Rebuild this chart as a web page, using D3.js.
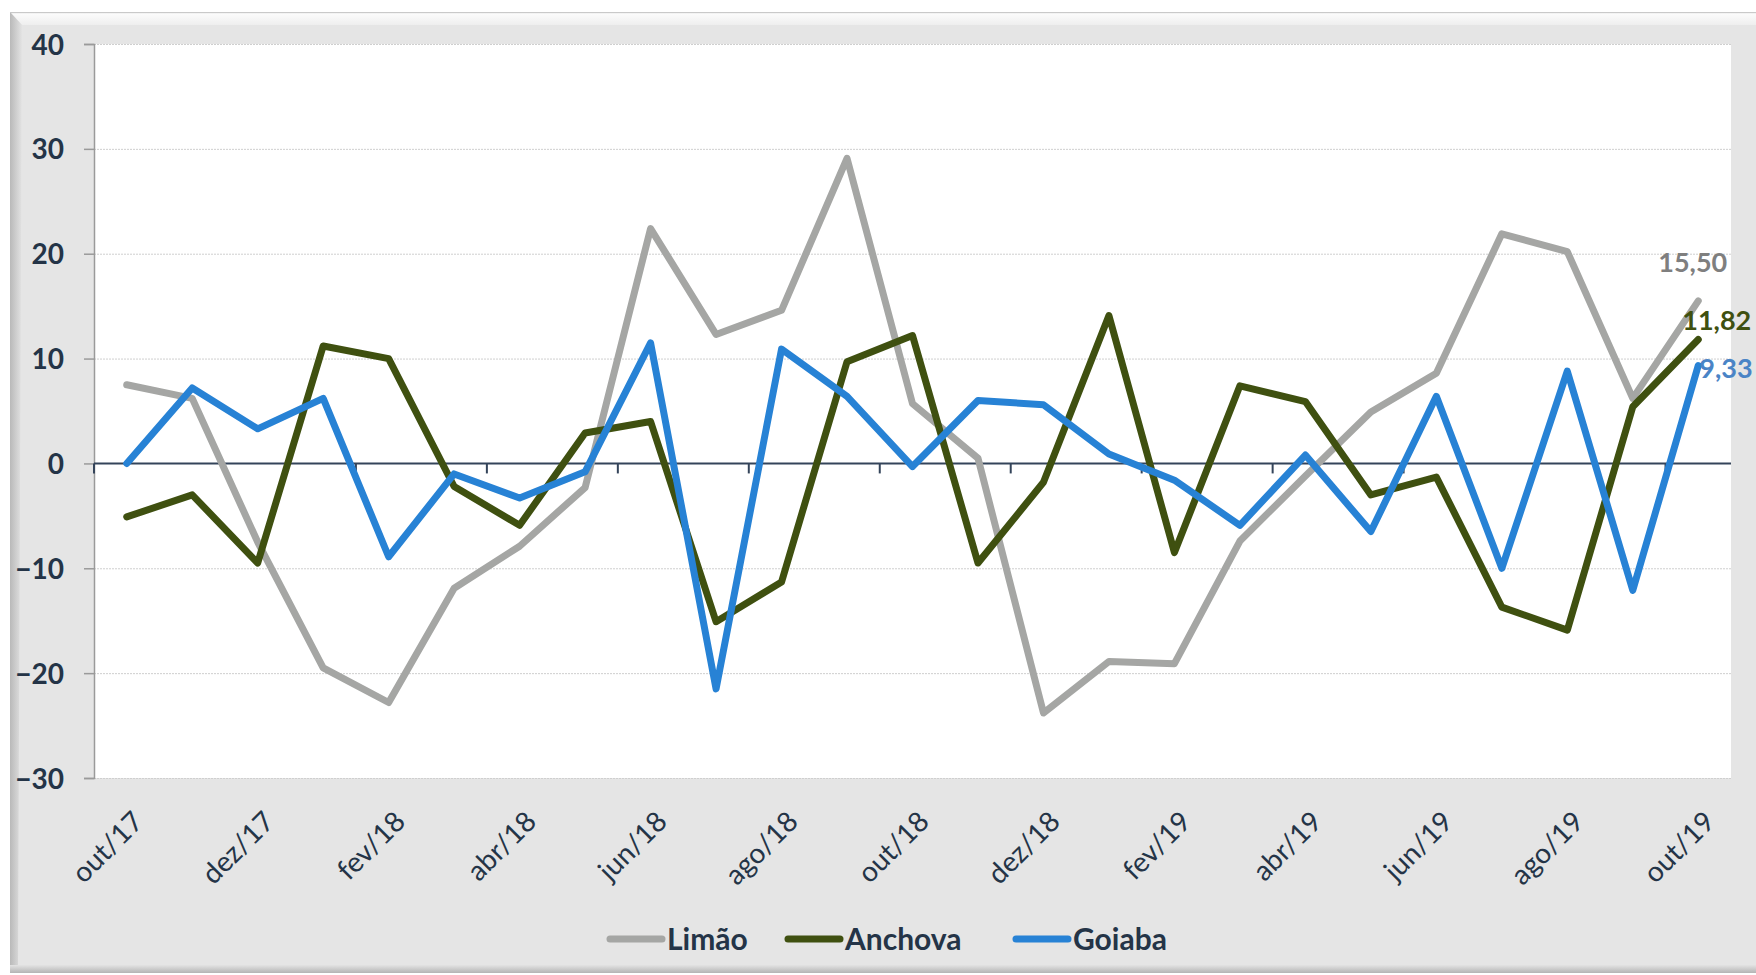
<!DOCTYPE html>
<html>
<head>
<meta charset="utf-8">
<script src="https://cdn.jsdelivr.net/npm/d3@7"></script>
<style>
  html, body { margin: 0; padding: 0; background: #ffffff; }
  svg { display: block; font-family: Lato, "Open Sans", sans-serif; }
</style>
</head>
<body>
<div id="chart"></div>
<script>
// Categories (monthly)
const months = [
  "out/17", "nov/17", "dez/17", "jan/18", "fev/18", "mar/18", "abr/18", "mai/18",
  "jun/18", "jul/18", "ago/18", "set/18", "out/18", "nov/18", "dez/18", "jan/19",
  "fev/19", "mar/19", "abr/19", "mai/19", "jun/19", "jul/19", "ago/19", "set/19", "out/19"
];

// Series values
const limao = [7.5, 6.2, -7.5, -19.5, -22.8, -11.9, -7.9, -2.3, 22.4, 12.3, 14.6, 29.1, 5.7,
  0.5, -23.8, -18.9, -19.1, -7.4, -1.2, 4.9, 8.6, 21.9, 20.2, 6.2, 15.5];
const anchova = [-5.1, -3.0, -9.5, 11.2, 10.0, -2.2, -5.9, 2.9, 4.0, -15.1, -11.3, 9.7, 12.2,
  -9.5, -1.8, 14.1, -8.5, 7.4, 5.9, -3.0, -1.3, -13.7, -15.9, 5.4, 11.82];
const goiaba = [0, 7.2, 3.3, 6.2, -8.9, -1.0, -3.3, -0.8, 11.5, -21.5, 10.9, 6.4, -0.3,
  6.0, 5.6, 0.9, -1.6, -5.9, 0.8, -6.5, 6.4, -10.0, 8.8, -12.1, 9.33];

// Y tick labels
const yTicks = [-30, -20, -10, 0, 10, 20, 30, 40];

const series = [
  { name: "Limão", values: limao, color: "#a5a6a4", labelColor: "#7f7f7f" },
  { name: "Anchova", values: anchova, color: "#3f5010", labelColor: "#3f5010" },
  { name: "Goiaba", values: goiaba, color: "#2782d5", labelColor: "#4a84c6" }
];

const width = 1756;
const height = 975;
const plot = { left: 94, right: 1731, top: 44, bottom: 778 };
const textColor = "#243447";

const svg = d3.select("#chart").append("svg")
  .attr("width", width)
  .attr("height", height);

const defs = svg.append("defs");
const gLeft = defs.append("linearGradient").attr("id", "bevelLeft");
gLeft.append("stop").attr("offset", 0).attr("stop-color", "#b9b9b9");
gLeft.append("stop").attr("offset", 1).attr("stop-color", "#e3e3e3");
const gTop = defs.append("linearGradient").attr("id", "bevelTop")
  .attr("x1", 0).attr("y1", 0).attr("x2", 0).attr("y2", 1);
gTop.append("stop").attr("offset", 0).attr("stop-color", "#d6d6d6");
gTop.append("stop").attr("offset", 0.15).attr("stop-color", "#fbfbfb");
gTop.append("stop").attr("offset", 1).attr("stop-color", "#eeeeee");
const gBot = defs.append("linearGradient").attr("id", "bevelBot")
  .attr("x1", 0).attr("y1", 0).attr("x2", 0).attr("y2", 1);
gBot.append("stop").attr("offset", 0).attr("stop-color", "#e3e3e3");
gBot.append("stop").attr("offset", 1).attr("stop-color", "#b4b4b4");

// Frame with bevel
svg.append("rect")
  .attr("x", 10).attr("y", 12).attr("width", 1760).attr("height", 961)
  .attr("fill", "#e5e5e5");
svg.append("path")
  .attr("d", "M10,12 L1770,12 L1770,25 L22,25 Z")
  .attr("fill", "url(#bevelTop)");
svg.append("path")
  .attr("d", "M10,12 L22,25 L18,966 L10,973 Z")
  .attr("fill", "url(#bevelLeft)");
svg.append("rect")
  .attr("x", 10).attr("y", 965).attr("width", 1760).attr("height", 8)
  .attr("fill", "url(#bevelBot)");
svg.append("line")
  .attr("x1", 10).attr("x2", 1770).attr("y1", 12.5).attr("y2", 12.5)
  .attr("stroke", "#c9c9c9").attr("stroke-width", 1);

// Scales
const x = d3.scaleBand().domain(months).range([plot.left, plot.right]);
const cx = (m) => x(m) + x.bandwidth() / 2;
const y = d3.scaleLinear().domain([-30, 40]).range([plot.bottom, plot.top]);

// Plot area
svg.append("rect")
  .attr("x", plot.left).attr("y", plot.top)
  .attr("width", plot.right - plot.left).attr("height", plot.bottom - plot.top)
  .attr("fill", "#ffffff");

// Gridlines
svg.append("g")
  .selectAll("line")
  .data(yTicks.filter((d) => d !== 0))
  .join("line")
  .attr("x1", plot.left).attr("x2", plot.right)
  .attr("y1", (d) => y(d) + 0.5).attr("y2", (d) => y(d) + 0.5)
  .attr("stroke", "#cfcfcf")
  .attr("stroke-width", 1)
  .attr("stroke-dasharray", "2,1");

// Y axis
const yAxis = svg.append("g")
  .attr("transform", `translate(${plot.left},0)`)
  .call(d3.axisLeft(y).tickValues(yTicks).tickSize(10).tickPadding(20).tickFormat(d3.format("d")));
yAxis.select(".domain").attr("stroke", "#9a9a9a").attr("stroke-width", 1.5);
yAxis.selectAll(".tick line").attr("stroke", "#9a9a9a").attr("stroke-width", 1.5);
yAxis.selectAll(".tick text")
  .attr("fill", textColor)
  .attr("font-family", "Lato, sans-serif")
  .attr("font-weight", "bold")
  .attr("font-size", 28)
  .attr("dy", "0.36em");

// Zero line with category ticks every two months
const edgeTicks = d3.range(0, months.length + 1, 2).map((i) =>
  i < months.length ? x(months[i]) : plot.right);
svg.append("g")
  .selectAll("line")
  .data(edgeTicks)
  .join("line")
  .attr("x1", (d) => d).attr("x2", (d) => d)
  .attr("y1", y(0)).attr("y2", y(0) + 10)
  .attr("stroke", "#34445a").attr("stroke-width", 2);
svg.append("line")
  .attr("x1", plot.left).attr("x2", plot.right)
  .attr("y1", y(0)).attr("y2", y(0))
  .attr("stroke", "#34445a").attr("stroke-width", 2);

// X labels
svg.append("g")
  .selectAll("text")
  .data(months.filter((d, i) => i % 2 === 0))
  .join("text")
  .attr("transform", (d) => `translate(${cx(d) + 4},${plot.bottom + 31}) rotate(-45)`)
  .attr("text-anchor", "end")
  .attr("dy", "0.72em")
  .attr("fill", textColor)
  .attr("font-family", "Lato, sans-serif")
  .attr("font-size", 28)
  .text((d) => d);

// Lines
const line = d3.line()
  .x((d, i) => cx(months[i]))
  .y((d) => y(d));

svg.append("g")
  .selectAll("path")
  .data(series)
  .join("path")
  .attr("d", (s) => line(s.values))
  .attr("fill", "none")
  .attr("stroke", (s) => s.color)
  .attr("stroke-width", 7)
  .attr("stroke-linejoin", "round")
  .attr("stroke-linecap", "round");

// End value labels
const fmt = (v) => d3.format(".2f")(v).replace(".", ",");
const last = months.length - 1;
const labelPos = [
  { dx: 29, dy: -29, anchor: "end" },
  { dx: -16, dy: -9, anchor: "start" },
  { dx: 1, dy: 12, anchor: "start" }
];
svg.append("g")
  .selectAll("text")
  .data(series)
  .join("text")
  .attr("x", (s, i) => cx(months[last]) + labelPos[i].dx)
  .attr("y", (s, i) => y(s.values[last]) + labelPos[i].dy)
  .attr("text-anchor", (s, i) => labelPos[i].anchor)
  .attr("fill", (s) => s.labelColor)
  .attr("font-family", "Lato, sans-serif")
  .attr("font-weight", "bold")
  .attr("font-size", 27)
  .text((s) => fmt(s.values[last]));

// Legend
const legendX = [607, 785, 1013];
const legendY = 939;
const legend = svg.append("g")
  .selectAll("g")
  .data(series)
  .join("g")
  .attr("transform", (s, i) => `translate(${legendX[i]},${legendY})`);
legend.append("line")
  .attr("x1", 3).attr("x2", 55)
  .attr("stroke", (s) => s.color)
  .attr("stroke-width", 7)
  .attr("stroke-linecap", "round");
legend.append("text")
  .attr("x", 60)
  .attr("dy", "0.35em")
  .attr("fill", textColor)
  .attr("font-family", "Lato, sans-serif")
  .attr("font-weight", "bold")
  .attr("font-size", 30)
  .text((s) => s.name);
</script>
</body>
</html>
